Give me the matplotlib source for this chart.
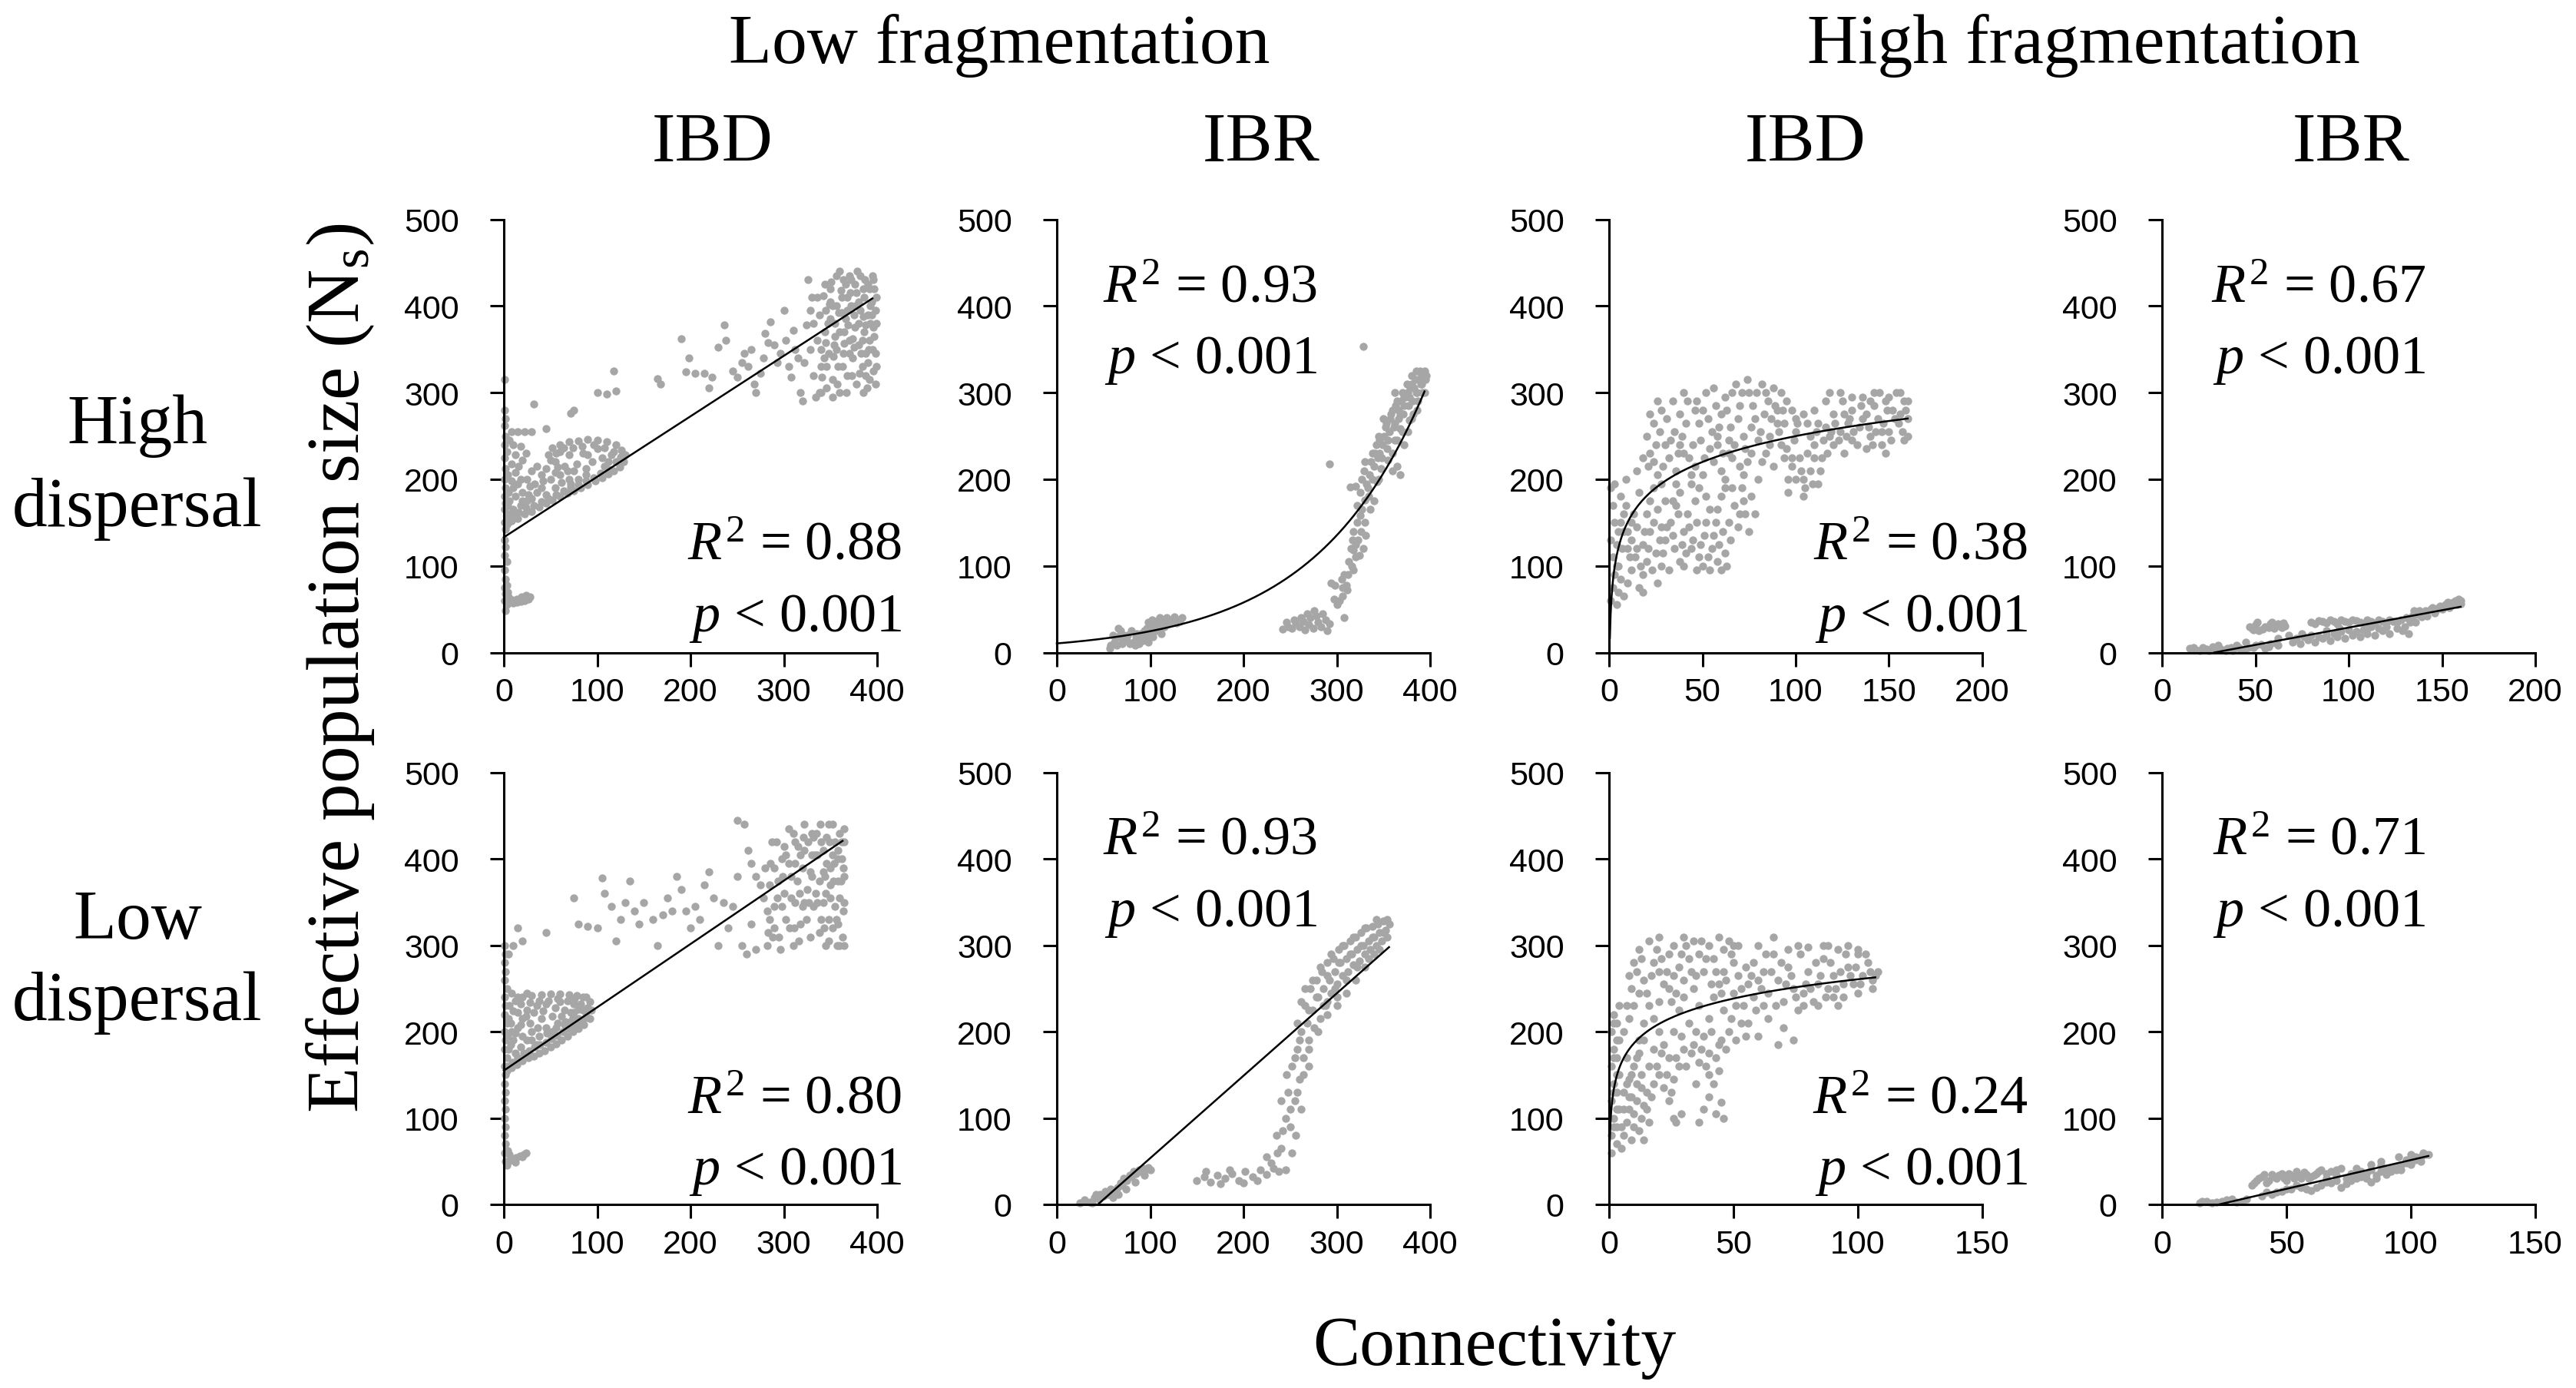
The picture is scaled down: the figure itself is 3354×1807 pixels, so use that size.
import numpy as np
import matplotlib
matplotlib.use("Agg")
import matplotlib.pyplot as plt

W, H, DPI = 3354, 1808, 100

# ------------------------------------------------------------------ data
frag_labels = ["Low fragmentation", "High fragmentation"]
model_labels = ["IBD", "IBR", "IBD", "IBR"]
row_labels = [["High", "dispersal"], ["Low", "dispersal"]]
y_ticks = [0, 100, 200, 300, 400, 500]
x_ticks = [
    [[0, 100, 200, 300, 400], [0, 100, 200, 300, 400], [0, 50, 100, 150, 200], [0, 50, 100, 150, 200]],
    [[0, 100, 200, 300, 400], [0, 100, 200, 300, 400], [0, 50, 100, 150], [0, 50, 100, 150]],
]
r2_values = [["0.88", "0.93", "0.38", "0.67"], ["0.80", "0.93", "0.24", "0.71"]]
p_values = [["0.001"] * 4, ["0.001"] * 4]

# fitted trend lines: (kind, a, b, x_start, x_end)
#   linear: y = a + b*x ; exp: y = a*exp(b*x) ; log: y = a + b*ln(x)
fits = [
    [("linear", 133.0, 0.698, 0, 395), ("exp", 10.5, 0.00852, 0, 394),
     ("log", 51.3, 43.1, 0.45, 160), ("linear", -11.2, 0.40, 28, 160)],
    [("linear", 155.0, 0.733, 0, 363), ("linear", -42.0, 0.955, 44, 356),
     ("log", 112.5, 32.2, 0.3, 107), ("linear", -15.3, 0.667, 23, 107)],
]

# scatter points (connectivity, Ns)
hd_lf_ibd = [
    (1,315),(1,280),(2,270),(1,262),(2,250),(1,240),(3,232),(1,225),(2,212),(1,200),(2,190),(1,180),
    (2,172),(1,165),(3,158),(1,150),(2,142),(1,130),(2,122),(1,112),(3,105),(1,95),(2,85),(1,75),
    (2,68),(1,60),(3,55),(2,48),
    (6,58),(10,57),(14,58),(18,59),(22,60),(26,62),(28,64),(24,66),(19,64),(14,62),(9,61),(5,64),(4,70),(3,78),
    (3,148),(8,152),(15,155),(22,160),(30,163),(38,168),(45,172),(52,176),(60,180),(68,184),(75,187),
    (82,190),(90,194),(98,198),(105,202),(112,206),(118,210),(124,214),(128,220),(130,228),(126,234),
    (120,240),(110,243),(100,245),(90,246),(80,244),(70,243),(60,240),(52,236),(48,228),(55,220),
    (65,215),(75,210),(88,212),(95,220),(105,225),(115,228),(100,235),(85,230),(70,228),(60,232),
    (10,165),(18,170),(25,175),(12,180),(20,185),(30,178),(35,185),(40,190),(28,192),(15,195),(8,198),
    (5,185),(45,182),(55,190),(62,196),(70,200),(80,200),(50,200),(40,205),(35,215),(45,212),(55,208),
    (60,205),(72,195),(88,205),(108,215),(6,160),(4,170),
    (5,150),(10,158),(16,162),(24,167),(32,170),(40,174),(48,178),(56,182),(64,187),(72,191),(80,194),
    (88,198),(96,202),(104,207),(112,211),(120,220),(125,226),(118,232),(108,236),(96,240),(84,238),
    (74,236),(64,236),(56,230),(50,222),(58,214),(68,210),(78,218),(90,228),(112,220),(20,175),(26,182),
    (33,195),(42,198),(12,208),(18,200),(6,175),(10,190),(4,205),(16,215),(24,230),(6,245),
    (10,240),(18,238),(12,228),(8,218),(20,222),(25,200),(30,210),(8,255),(15,255),(22,255),(30,255),
    (45,258),(32,287),
    (75,280),(72,276),(100,300),(110,298),(120,302),(118,325),(165,316),(168,310),(190,362),(198,340),
    (195,324),(205,322),(215,322),(220,305),(223,318),(230,352),(236,378),(238,360),(245,325),(250,318),
    (255,335),(258,345),(262,330),(265,350),(268,310),(270,300),(275,322),(278,340),(280,368),(283,358),
    (286,382),(290,355),(293,335),(296,345),(300,395),(302,360),(305,330),(308,318),(310,372),(312,350),
    (315,340),(318,300),(320,290),(322,335),(324,378),(326,430),(328,350),(330,410),(332,320),(334,295),
    (336,360),(338,390),(340,330),(342,412),(344,370),(346,305),(348,345),(350,420),(350,385),(352,315),
    (354,355),(356,435),(356,400),(358,330),(360,370),(360,300),(362,410),(364,345),(366,425),(366,385),
    (368,320),(370,360),(372,430),(372,400),(374,340),(376,375),(378,415),(378,310),(380,355),(382,435),
    (382,395),(384,330),(386,370),(386,410),(388,345),(390,425),(390,390),(392,360),(392,315),(394,405),
    (396,375),(396,430),(398,345),(398,395),(397,420),(395,350),(393,380),(385,420),(375,390),(365,370),
    (355,380),(345,395),(340,350),(385,300),(388,320),(390,335),(396,325),(398,310),(380,380),(370,345),
    (362,392),(352,400),(384,360),(394,390),(376,425),(368,410),
    (338,300),(341,318),(343,340),(345,358),(347,380),(349,402),(351,428),(353,342),(355,365),(357,310),
    (359,392),(361,418),(363,330),(365,357),(367,300),(369,378),(371,415),(373,320),(375,352),(377,400),
    (379,440),(381,322),(383,345),(385,388),(387,430),(389,305),(391,350),(393,400),(395,435),(397,365),
    (399,330),(399,380),(399,410),(370,435),(360,440),(350,405),(344,425),(336,410),(332,380),(328,395),
    (340,300),(352,295),(364,430),(380,405),(388,378),(374,362),(368,395),(356,350),(346,330),(392,420),
]
hd_lf_ibr = [
    (58,8),(62,12),(65,18),(68,25),(66,28),(72,20),(75,15),(78,10),(82,12),(85,18),(88,10),(92,14),
    (95,20),(98,12),(100,22),(103,18),(106,25),(110,28),(112,22),(115,30),(60,20),(70,10),(90,22),
    (80,25),(98,35),(102,38),(106,36),(110,40),(114,37),(118,40),(122,38),(126,41),(130,38),(134,40),
    (108,32),(120,33),(128,34),(96,28),
    (57,5),(64,8),(70,15),(76,20),(84,8),(90,18),(96,15),(104,28),(116,35),(124,35),(132,36),(100,30),
    (94,25),(86,22),
    (242,27),(248,30),(252,28),(256,34),(260,30),(264,36),(266,26),(270,32),(272,40),(275,28),(278,42),
    (280,35),(283,30),(285,45),(288,38),(290,25),(292,33),(262,40),(268,45),(276,48),(246,35),(254,38),
    (294,80),(298,78),(308,40),(303,60),(305,85),(308,90),(310,78),(313,105),(316,100),(315,120),
    (318,118),(320,125),(323,130),(318,140),(325,158),(322,170),(327,165),(330,150),(325,185),(320,192),
    (327,200),(333,190),(329,210),(335,205),(330,220),(340,215),(345,200),(338,230),(342,240),(345,250),
    (348,225),(352,260),(355,245),(350,270),(357,270),(360,280),(362,265),(365,290),(368,275),(370,300),
    (372,285),(375,310),(378,295),(380,320),(383,305),(385,325),(388,315),(390,322),(392,300),(393,318),
    (382,275),(378,268),(376,255),(372,240),(368,258),(365,245),(360,230),(355,222),(347,212),(343,197),
    (360,210),(365,215),(368,205),(334,180),(340,175),(336,165),(330,176),(331,135),(328,120),(324,112),
    (318,95),(311,72),(306,65),(300,55),(297,62),(292,218),(328,353),(314,191),
    (385,300),(387,290),(390,310),(394,325),(395,315),(380,310),(376,300),(372,295),(366,280),(362,300),
    (332,195),(337,220),(341,230),(344,225),(346,245),(349,240),(351,250),(353,265),(356,255),(358,275),
    (361,260),(363,285),(366,270),(369,290),(371,275),(374,295),(377,285),(379,305),(381,290),(384,315),
    (386,300),(389,325),(391,310),(394,300),(396,320),(386,280),(380,270),(370,255),(362,245),(354,235),
    (346,230),(338,200),(326,140),(320,110),(322,150),(317,130),(312,90),(306,75),
]
hd_hf_ibd = [
    (1,60),(2,75),(3,90),(2,110),(1,130),(3,150),(2,170),(1,190),(4,55),(5,70),(6,85),(4,100),(7,120),
    (5,140),(8,160),(6,180),(9,200),(3,195),
    (8,65),(10,80),(12,95),(14,110),(16,75),(18,90),(20,105),(12,130),(15,145),(18,125),(22,140),
    (25,115),(28,100),(30,130),(33,150),(35,120),(38,105),(40,140),(42,160),(45,130),(48,110),(50,100),
    (52,150),(55,120),(58,105),(60,95),(56,135),(62,115),(46,175),(36,170),(26,165),(20,160),(16,185),
    (24,190),(30,175),(38,185),(44,195),(52,180),(58,165),(64,150),(66,190),(70,160),(72,175),(75,140),
    (32,95),(40,100),(47,95),(54,95),(26,80),(18,70),
    (4,125),(6,150),(9,170),(10,140),(11,110),(13,160),(15,120),(17,100),(19,140),(21,120),(23,95),
    (24,150),(27,130),(29,115),(31,145),(34,135),(37,160),(39,125),(41,115),(43,145),(47,150),(49,125),
    (51,135),(53,110),(57,150),(59,125),(61,140),(63,100),(65,130),(67,170),(69,145),(71,190),(73,160),
    (60,180),(48,190),(34,175),(22,175),(12,150),(8,140),(5,100),(10,120),(28,145),(44,120),(54,165),
    (62,190),(76,180),(78,160),
    (20,250),(24,265),(28,280),(22,230),(30,240),(35,255),(38,275),(42,290),(45,240),(48,265),(50,280),
    (52,300),(55,255),(58,240),(60,275),(62,295),(65,260),(68,310),(70,285),(72,250),(75,300),(78,270),
    (80,245),(82,310),(85,290),(88,305),(90,265),(86,250),(76,230),(66,225),(56,220),(46,215),(36,210),
    (26,205),(40,230),(60,210),(70,215),(32,225),(44,205),(54,235),(64,245),(74,220),(84,230),(92,240),
    (15,210),(18,225),(28,195),(36,195),(80,200),(88,215),
    (21,215),(25,240),(27,255),(29,215),(31,270),(33,245),(37,230),(39,250),(41,265),(43,225),(47,290),
    (49,245),(51,225),(53,270),(57,285),(59,260),(61,230),(63,280),(67,240),(69,270),(71,300),(73,235),
    (77,285),(79,300),(81,255),(83,275),(87,270),(89,285),(91,255),(93,280),(74,315),(84,300),(66,300),
    (56,305),(46,280),(34,290),(22,275),(26,290),(40,300),(58,250),(76,260),(86,240),(94,225),(82,220),
    (72,205),(62,200),(50,205),(24,220),(38,240),(64,230),
    (95,235),(98,215),(100,200),(102,225),(105,190),(108,210),(110,240),(112,195),(114,225),(108,250),
    (100,255),(104,275),(110,280),(116,260),(120,240),(124,255),(126,230),(130,245),(134,260),(138,235),
    (140,250),(144,270),(146,240),(150,255),(152,280),(155,265),(158,290),(160,270),(156,300),(150,295),
    (145,300),(140,290),(135,285),(130,280),(125,290),(120,275),(118,300),(98,280),(95,290),(92,300),
    (112,265),(128,265),(142,285),(148,230),(158,245),(96,185),(104,180),
    (96,200),(99,245),(101,265),(103,210),(106,230),(109,195),(111,255),(113,210),(115,245),(117,230),
    (119,255),(121,265),(123,245),(127,250),(129,270),(131,255),(133,240),(136,270),(139,260),(141,240),
    (143,255),(147,265),(149,280),(151,245),(153,270),(157,255),(159,280),(160,290),(154,300),(148,290),
    (142,300),(136,295),(130,295),(124,300),(116,290),(106,265),(100,270),(94,265),(90,280),(110,225),
    (104,200),(98,225),(118,250),(126,275),(138,275),(146,255),(156,275),(160,250),
]
hd_hf_ibr = [
    (15,5),(18,3),(22,6),(25,2),(28,4),(32,3),(35,5),(38,2),(42,4),(46,6),(50,8),(55,5),(58,10),(62,8),
    (48,28),(50,32),(52,25),(55,30),(58,33),(60,28),(63,31),(65,34),(70,12),(74,10),(78,15),(82,12),
    (86,16),(90,14),(94,18),(98,16),(102,20),(106,18),(110,22),(114,20),(118,25),(122,22),(126,28),
    (80,35),(84,37),(88,34),(92,36),(96,38),(100,35),(104,37),(108,33),(112,36),(116,38),(120,34),
    (124,36),(128,38),(130,30),(132,22),(134,42),(136,35),(138,48),(140,45),(144,50),(148,52),(152,55),
    (156,58),(160,60),(158,55),(150,50),(142,42),(135,48),(146,46),(154,52),(160,56),(68,20),(75,22),
    (95,28),(110,28),(62,16),(88,25),(120,30),(45,12),(40,8),(30,8),
    (17,6),(20,2),(24,4),(27,7),(31,5),(34,2),(37,6),(41,6),(44,3),(49,6),(53,9),(57,7),(61,11),(47,30),
    (49,26),(51,35),(54,27),(57,29),(59,35),(62,33),(64,29),(66,31),(72,16),(76,18),(80,20),(84,18),
    (88,20),(92,22),(96,24),(100,26),(104,24),(108,26),(112,30),(116,28),(82,33),(86,36),(90,38),(94,33),
    (98,36),(102,38),(106,35),(110,38),(114,34),(118,36),(122,38),(126,35),(131,40),(137,44),(141,48),
    (145,52),(149,54),(153,58),(157,60),(159,62),(155,56),(147,49),(139,41),(133,35),(129,25),
]
ld_lf_ibd = [
    (1,300),(2,290),(1,280),(2,270),(1,260),(3,250),(1,240),(2,230),(1,220),(3,210),(1,200),(2,190),
    (1,180),(3,170),(1,160),(2,150),(1,140),(2,130),(1,120),(2,110),(1,100),(2,90),(1,80),(2,70),
    (1,60),(2,50),(3,45),
    (5,50),(9,52),(13,54),(17,56),(21,58),(24,60),(20,55),(12,49),(6,58),(4,62),
    (3,155),(8,158),(14,162),(20,166),(26,170),(32,172),(38,175),(44,178),(50,182),(56,186),(62,190),
    (68,195),(74,200),(80,204),(86,208),(92,215),(94,225),(92,235),(85,240),(78,242),(70,243),(60,244),
    (50,244),(40,243),(30,242),(20,240),(12,236),(6,230),(5,215),(8,200),(5,180),(10,190),(15,205),
    (20,215),(25,225),(35,230),(45,232),(55,228),(65,225),(75,222),(85,225),(12,175),(18,182),(25,190),
    (30,200),(38,195),(45,205),(52,200),(58,210),(65,208),(72,212),(80,215),(88,222),(40,215),(28,210),
    (60,235),(75,232),(15,222),(35,185),
    (4,160),(9,165),(15,170),(21,175),(27,178),(33,182),(39,185),(45,188),(51,192),(57,196),(63,200),
    (69,204),(75,208),(81,212),(87,216),(90,228),(88,240),(82,232),(76,238),(68,236),(58,238),(48,236),
    (38,236),(28,234),(18,232),(10,224),(7,210),(4,195),(7,185),(12,198),(18,208),(24,218),(32,222),
    (42,224),(52,218),(62,218),(72,222),(80,226),(20,195),(30,190),(36,205),(46,198),(56,205),(66,212),
    (74,216),(8,245),(15,240),(25,245),
    (5,290),(10,300),(15,320),(20,305),(45,315),(75,355),(80,325),(90,322),(100,320),(105,378),(108,360),
    (115,345),(120,305),(125,330),(130,350),(135,375),(140,340),(145,325),(150,350),(160,330),(165,300),
    (170,335),(175,355),(180,340),(185,380),(190,365),(195,340),(200,320),(205,345),(210,330),(215,370),
    (220,385),(225,355),(230,300),(235,350),(240,320),(245,345),(250,380),(255,300),(260,290),(265,325),
    (270,295),(250,445),(258,440),(262,410),(265,395),
    (280,390),(285,370),(290,345),(292,420),(295,310),(298,400),(300,360),(302,330),(305,435),(308,380),
    (310,300),(312,350),(315,415),(318,325),(320,390),(322,440),(325,365),(328,310),(330,405),(332,345),
    (335,430),(338,375),(340,330),(342,410),(345,300),(345,360),(348,440),(350,390),(352,320),(355,420),
    (355,345),(358,375),(360,430),(360,300),(362,400),(364,340),(365,380),(365,420),(363,310),(358,325),
    (350,355),(346,395),(340,420),(336,350),(330,380),(326,420),(318,405),(310,430),(300,415),(290,390),
    (285,330),(275,370),(270,380),(278,355),(282,300),(288,310),(296,295),(352,405),(342,385),(332,425),
    (322,350),(312,395),(358,410),(348,330),
    (282,340),(286,395),(290,320),(294,375),(298,345),(302,405),(306,320),(308,355),(312,420),(314,375),
    (316,305),(320,345),(322,410),(324,330),(328,385),(330,430),(334,360),(336,405),(338,315),(342,350),
    (344,380),(346,425),(348,305),(350,370),(352,440),(354,395),(356,330),(358,400),(360,355),(362,420),
    (364,390),(365,300),(365,350),(365,435),(361,375),(357,300),(353,375),(349,420),(343,320),(339,440),
    (333,405),(327,350),(321,425),(317,360),(311,320),(305,395),(299,380),(293,355),(287,420),(283,315),
]
ld_lf_ibr = [
    (25,2),(30,5),(35,3),(40,8),(45,6),(50,10),(55,12),(58,18),(62,15),(65,20),(68,25),(70,22),(72,30),
    (75,28),(78,34),(80,32),(82,38),(85,36),(88,40),(90,38),(92,42),(95,40),(98,43),(100,40),(60,8),
    (52,15),(46,12),(66,12),(74,18),(84,26),(94,34),(38,2),(42,12),
    (150,28),(158,32),(165,26),(172,34),(180,30),(188,36),(195,28),(202,38),(210,32),(218,40),(225,35),
    (232,42),(238,38),(175,24),(200,25),(215,28),(160,38),(185,40),
    (225,55),(235,80),(240,65),(245,100),(248,130),(250,90),(252,160),(255,120),(258,180),(260,145),
    (262,200),(264,170),(266,230),(268,210),(270,190),(272,250),(274,225),(276,205),(278,260),(280,240),
    (282,215),(284,270),(286,250),(288,230),(290,280),(292,260),(294,245),(296,285),(298,270),(300,255),
    (302,295),(304,280),(306,265),(308,300),(310,285),(312,270),(314,305),(316,290),(318,278),(320,310),
    (322,295),(324,282),(326,315),(328,300),(330,290),(332,320),(334,305),(336,295),(338,322),(340,310),
    (342,300),(344,325),(346,315),(348,305),(350,328),(352,318),(354,310),(356,325),(262,110),(256,80),
    (270,160),(245,40),(252,60),(290,235),(300,240),
    (258,210),(262,235),(266,250),(270,225),(274,260),(278,240),(282,275),(286,230),(290,265),(294,290),
    (298,250),(302,280),(306,300),(310,260),(314,290),(318,310),(322,275),(326,300),(330,320),(334,285),
    (338,310),(342,330),(346,295),(350,315),(354,330),(340,290),(330,275),(320,260),(310,245),(300,230),
    (290,220),(280,200),(270,180),(264,150),(258,130),(250,110),(242,85),(236,60),(230,48),(246,150),
    (240,120),(260,190),(255,170),
]
ld_hf_ibd = [
    (1,60),(1,80),(2,100),(1,120),(2,140),(1,160),(2,180),(1,200),(2,220),(3,70),(3,90),(4,110),
    (3,130),(4,150),(3,170),(4,190),(3,210),(4,230),
    (5,65),(6,80),(7,95),(8,110),(9,75),(10,90),(11,120),(12,85),(13,100),(14,115),(6,130),(8,145),
    (10,160),(12,175),(14,190),(9,125),(7,170),(11,140),(13,150),(15,130),(16,160),(18,140),(20,150),
    (22,135),(24,120),(26,145),(14,75),(16,95),
    (6,200),(8,215),(10,230),(12,245),(14,260),(8,265),(10,280),(12,295),(16,305),(18,280),(20,270),
    (22,255),(24,290),(26,300),(28,275),(30,260),(32,285),(34,305),(36,290),(38,270),(40,300),(42,285),
    (44,310),(46,295),(48,305),(50,280),(52,300),(16,230),(18,215),(20,200),(22,185),(24,170),(26,200),
    (28,225),(30,240),(32,210),(34,185),(36,165),(38,195),(40,215),(42,240),(44,255),(46,225),(48,200),
    (50,245),(52,265),(54,230),(20,235),(24,250),(34,250),(28,160),(30,180),(40,175),(44,185),(18,180),
    (36,230),(46,270),(14,210),(26,265),
    (36,95),(38,110),(40,125),(42,140),(44,155),(46,100),(45,118),(43,105),(40,150),(35,140),(26,100),
    (29,105),(27,95),
    (56,255),(58,280),(60,300),(62,270),(64,245),(66,290),(68,260),(70,235),(72,275),(74,250),(76,225),
    (78,245),(80,270),(82,235),(84,255),(86,285),(88,250),(90,265),(92,295),(94,240),(96,275),(98,255),
    (100,290),(102,265),(104,280),(106,260),(108,270),(96,300),(88,300),(84,230),(56,210),(60,195),
    (64,215),(68,185),(70,205),(74,190),(78,230),(90,240),(100,245),(106,250),(62,230),(58,240),(92,230),
    (72,295),(80,298),(66,310),(100,295),
    (2,90),(3,110),(2,130),(3,150),(2,170),(3,190),(2,210),(5,90),(6,110),(7,140),(8,125),(9,150),
    (10,105),(11,170),(12,190),(13,135),(15,110),(17,125),(19,160),(21,175),(23,150),(25,130),(27,170),
    (29,195),(31,160),(33,175),(35,200),(37,180),(39,160),(41,200),(43,170),(45,190),(47,180),(49,215),
    (51,190),(53,210),(55,195),(7,230),(9,250),(11,270),(13,285),(15,245),(17,265),(19,295),(21,285),
    (23,270),(25,235),(27,245),(29,290),(31,300),(33,270),(35,265),(37,305),(39,285),(41,255),(43,270),
    (45,245),(47,260),(49,290),(51,230),(53,250),(55,275),(57,265),(59,225),(61,250),(63,290),(65,270),
    (67,230),(69,280),(71,255),(73,265),(75,240),(77,290),(79,255),(81,250),(83,280),(85,265),(87,240),
    (89,280),(91,250),(93,270),(95,290),(97,265),(99,275),(101,255),(103,290),(105,270),(107,265),
    (94,255),(86,300),(76,300),(60,260),(50,300),(30,310),(20,310),
]
ld_hf_ibr = [
    (15,2),(18,4),(22,3),(26,5),(30,3),(34,6),(36,22),(38,28),(40,32),(42,25),(44,35),(46,30),(48,36),
    (50,28),(52,34),(54,38),(56,30),(58,35),(60,32),(62,36),(40,10),(44,12),(48,15),(52,18),(56,20),
    (60,16),(64,22),(68,25),(72,20),(76,28),(80,32),(84,26),(88,38),(92,42),(96,45),(100,50),(104,55),
    (107,58),(102,52),(98,48),(94,40),(90,35),(86,30),(82,36),(78,34),(74,30),(70,34),(66,30),(64,40),
    (72,42),(84,46),(88,50),(78,42),(95,55),(100,58),(105,60),
    (16,4),(20,2),(24,4),(28,6),(32,4),(37,25),(39,30),(41,35),(43,28),(45,32),(47,34),(49,30),(51,36),
    (53,30),(55,34),(57,37),(59,30),(61,34),(63,38),(42,14),(46,14),(50,18),(54,22),(58,18),(62,20),
    (66,26),(70,28),(74,24),(78,30),(82,30),(86,34),(90,40),(94,44),(98,52),(102,55),(106,58),(104,50),
    (100,46),(96,40),(92,38),(88,45),(84,40),(80,38),(76,36),(68,38),(70,40),(66,36),
]
points = [[hd_lf_ibd, hd_lf_ibr, hd_hf_ibd, hd_hf_ibr],
          [ld_lf_ibd, ld_lf_ibr, ld_hf_ibd, ld_hf_ibr]]

# ------------------------------------------------------------------ style
SERIF = ["Liberation Serif", "DejaVu Serif"]
SANS = ["Liberation Sans", "DejaVu Sans"]
plt.rcParams["font.family"] = SANS
plt.rcParams["mathtext.fontset"] = "custom"
plt.rcParams["mathtext.rm"] = "Liberation Serif"
plt.rcParams["mathtext.it"] = "Liberation Serif:italic"

GREY = "#a6a6a6"
HEAD = 66
STAT = 52

fig = plt.figure(figsize=(W / DPI, H / DPI), dpi=DPI)


def ftext(x, y, s, **kw):
    fig.text(x / W, 1 - y / H, s, **kw)


lefts = [656, 1376, 2095, 2815]
pw = 486
rows = [(850.5, 286.5), (1569, 1007)]
stat_right = [1174, 1715, 2640, 3158]
stat_base = [[729, 393, 729, 393], [1449, 1113, 1449, 1113]]

for r in range(2):
    y0, y5 = rows[r]
    for c in range(4):
        ax = fig.add_axes([lefts[c] / W, 1 - y0 / H, pw / W, (y0 - y5) / H])
        pts = np.array(points[r][c], dtype=float)
        ax.scatter(pts[:, 0], pts[:, 1], s=56, color=GREY, linewidths=0, clip_on=False, zorder=2)
        kind, a, b, xs, xe = fits[r][c]
        xx = np.linspace(xs, xe, 400)
        if kind == "linear":
            yy = a + b * xx
        elif kind == "exp":
            yy = a * np.exp(b * xx)
        else:
            yy = a + b * np.log(xx)
        ax.plot(xx, yy, color="black", lw=1.8, zorder=3, clip_on=False)
        xt = x_ticks[r][c]
        ax.set_xlim(0, xt[-1])
        ax.set_ylim(0, 500)
        ax.set_xticks(xt)
        ax.set_yticks(y_ticks)
        for s in ["top", "right"]:
            ax.spines[s].set_visible(False)
        for s in ["left", "bottom"]:
            ax.spines[s].set_linewidth(2.2)
            ax.spines[s].set_color("black")
        ax.tick_params(axis="both", direction="out", length=13, width=2.2,
                       labelsize=31, colors="black")
        ax.tick_params(axis="y", pad=29)
        ax.tick_params(axis="x", pad=10)
        for lab in ax.get_xticklabels() + ax.get_yticklabels():
            lab.set_fontfamily(SANS)
        ax.patch.set_alpha(0)
        # statistics
        ftext(stat_right[c], stat_base[r][c], r"$R^{2}$ = %s" % r2_values[r][c],
              ha="right", va="baseline", fontsize=STAT, family=SERIF)
        ftext(stat_right[c], stat_base[r][c] + 93, r"$p$ < %s" % p_values[r][c],
              ha="right", va="baseline", fontsize=STAT, family=SERIF)

# headers
ftext(1301, 82, frag_labels[0], ha="center", va="baseline", fontsize=HEAD, family=SERIF)
ftext(2713, 82, frag_labels[1], ha="center", va="baseline", fontsize=HEAD, family=SERIF)
for xc, lab in zip([928, 1642, 2351, 3061], model_labels):
    ftext(xc, 210, lab, ha="center", va="baseline", fontsize=HEAD, family=SERIF)

# row labels
for (l1, l2), (b1, b2) in zip(row_labels, [(577, 685), (1222, 1328)]):
    ftext(179, b1, l1, ha="center", va="baseline", fontsize=HEAD, family=SERIF)
    ftext(179, b2, l2, ha="center", va="baseline", fontsize=HEAD, family=SERIF)

# axis titles
ftext(443, 870, r"Effective population size (N$_\mathrm{s}$)", ha="center", va="center",
      rotation=90, fontsize=70, family=SERIF)
ftext(1946, 1777, "Connectivity", ha="center", va="baseline", fontsize=HEAD, family=SERIF)

fig.savefig("out.png", dpi=DPI)
